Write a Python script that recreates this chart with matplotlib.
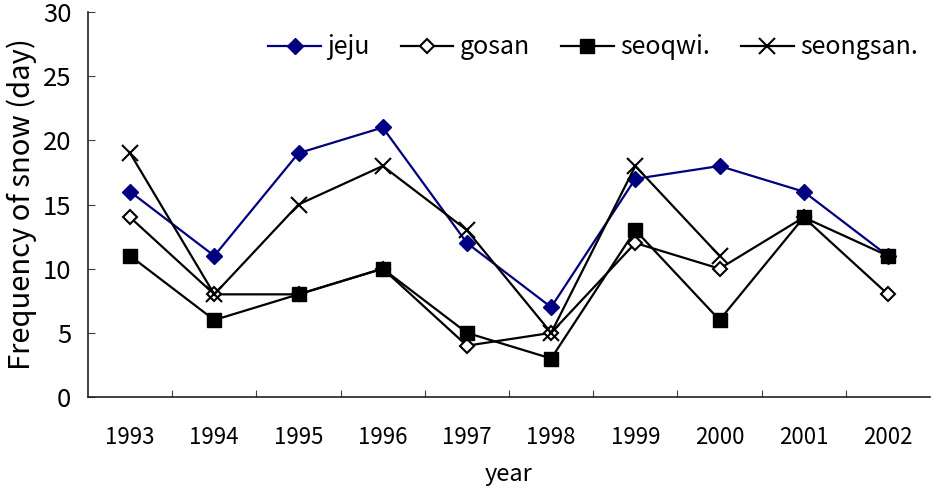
import matplotlib
matplotlib.use("Agg")
import matplotlib.pyplot as plt

years = ["1993", "1994", "1995", "1996", "1997", "1998", "1999", "2000", "2001", "2002"]
jeju = [16, 11, 19, 21, 12, 7, 17, 18, 16, 11]
gosan = [14, 8, 8, 10, 4, 5, 12, 10, 14, 8]
seoqwi = [11, 6, 8, 10, 5, 3, 13, 6, 14, 11]
seongsan = [19, 8, 15, 18, 13, 5, 18, 11]

plt.rcParams['font.family'] = ['Noto Sans CJK KR', 'DejaVu Sans']
plt.rcParams['font.weight'] = 'light'

fig = plt.figure(figsize=(9.31, 4.91), dpi=100)
ax = fig.add_axes([0.0945, 0.1914, 0.9045, 0.7842])

x = list(range(len(years)))
# jeju sits under the black series (see 2002 where it meets seoqwi)
ax.plot(x, jeju, color='#000080', lw=1.6, marker='D', ms=8.5, label='jeju', zorder=1.9)
ax.plot(x, gosan, color='black', lw=1.6, marker='D', ms=7, mfc='white', mec='black', mew=1.5, label='gosan')
ax.plot(x, seoqwi, color='black', lw=1.6, marker='s', ms=10, label='seoqwi.')
ax.plot(x[:len(seongsan)], seongsan, color='black', lw=1.6, marker='x', ms=11.5, mew=1.5, label='seongsan.')

ax.set_xlim(-0.5, len(years) - 0.5)
ax.set_ylim(0, 30)
ax.set_yticks(range(0, 31, 5))
ax.set_xticks([i + 0.5 for i in range(len(years) - 1)])
ax.set_xticklabels([])
ax.set_xticks(x, minor=True)
ax.set_xticklabels(years, minor=True, fontsize=16)
ax.tick_params(axis='x', which='major', direction='in', length=5, color='#404040')
ax.tick_params(axis='x', which='minor', length=0, pad=21)
ax.tick_params(axis='y', direction='in', length=5, labelsize=18.5, color='#404040', pad=12)

for side in ['top', 'right']:
    ax.spines[side].set_visible(False)
for side in ['left', 'bottom']:
    ax.spines[side].set_linewidth(1.2)
    ax.spines[side].set_color('#202020')

ax.set_xlabel('year', fontsize=17, labelpad=10)
ax.set_ylabel('Frequency of snow (day)', fontsize=21, labelpad=4)

ax.legend(loc='upper right', ncol=4, frameon=False, fontsize=18,
          handlelength=2.1, columnspacing=1.25, handletextpad=0.25,
          bbox_to_anchor=(1.012, 1.0))

plt.savefig('out.png', dpi=100)
